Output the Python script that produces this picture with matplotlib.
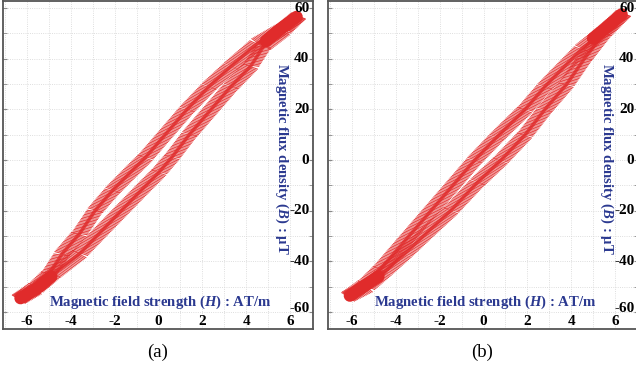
import matplotlib
matplotlib.use("Agg")
import matplotlib.pyplot as plt
import matplotlib.patheffects as pe
import matplotlib.transforms as mtransforms
import numpy as np

plt.rcParams['font.family'] = ['Liberation Serif', 'DejaVu Serif']
plt.rcParams['mathtext.fontset'] = 'custom'
plt.rcParams['mathtext.it'] = 'Liberation Serif:italic:bold'
plt.rcParams['mathtext.rm'] = 'Liberation Serif:bold'

# hysteresis loops, H in AT/m, B in uT
# each branch runs from negative to positive saturation
a_upper_h = [-6.4, -5.6, -5.0, -4.4, -3.6, -2.9, -2.1, -1.3, -0.6, 0.3, 1.3, 2.3, 3.3, 4.5, 5.7, 6.4]
a_upper_b = [-55, -50, -45, -37, -29, -20, -12, -5, 1, 10, 20, 29, 37, 46, 52, 57]
a_lower_h = [-6.4, -5.6, -4.8, -3.6, -2.6, -1.7, -0.8, 0.0, 0.6, 1.4, 2.4, 3.3, 4.2, 4.8, 5.7, 6.4]
a_lower_b = [-55, -51, -45, -37, -28, -20, -12, -5, 1, 10, 20, 29, 37, 45, 51, 57]
# dense saturation tips
a_tip_h = [[4.9, 5.6, 6.3], [-6.3, -5.6, -4.9]]
a_tip_b = [[47, 52, 56.5], [-54.5, -51, -46]]

b_upper_h = [-6.2, -5.4, -4.7, -4.0, -3.2, -2.4, -1.4, -0.4, 0.6, 1.9, 2.8, 3.7, 4.5, 5.5, 6.4]
b_upper_b = [-54, -49, -43, -36, -28, -20, -10, 0, 9, 20, 29, 37, 44, 51, 58]
b_lower_h = [-6.2, -5.3, -4.5, -3.6, -2.5, -1.5, -0.3, 0.8, 1.9, 2.8, 3.8, 4.6, 5.5, 6.4]
b_lower_b = [-54, -50, -44, -37, -28, -20, -9, 0, 10, 20, 30, 40, 50, 58]
b_tip_h = [[5.0, 5.7, 6.3], [-6.1, -5.5, -4.8]]
b_tip_b = [[48, 53, 57.5], [-53.5, -50, -46]]

x_ticks = [-6, -4, -2, 0, 2, 4, 6]
y_ticks = [-60, -40, -20, 0, 20, 40, 60]

red = '#e02b2b'
navy = '#2b3990'

fig = plt.figure(figsize=(6.36, 3.69), dpi=100)
W, H = 636, 369


def panel(left_px, right_px, loops, tips, tag, tag_x):
    ax = fig.add_axes([left_px / W, 1 - 329 / H, (right_px - left_px) / W, 328 / H])
    ax.set_xlim(-7.1, 7.05)
    ax.set_ylim(-66.7, 62.8)
    ax.set_xticks(np.arange(-7, 8, 1), minor=True)
    ax.set_yticks(np.arange(-60, 61, 10), minor=True)
    ax.set_xticks(x_ticks)
    ax.set_yticks(y_ticks)
    ax.grid(which='both', color='#d4d4d4', linestyle=':', linewidth=0.6)
    ax.tick_params(which='both', direction='in', length=3, color='#888888',
                   labelbottom=False, labelleft=False, left=True, right=True,
                   top=False, bottom=False)
    for s in ax.spines.values():
        s.set_color('#555555')
        s.set_linewidth(1.3)

    # short strokes across the trace, like the dense noisy samples
    stroke = [pe.TickedStroke(spacing=1.2, angle=115, length=4.6, linewidth=0.8,
                              foreground=red, alpha=0.85),
              pe.TickedStroke(spacing=1.2, angle=-65, length=4.6, linewidth=0.8,
                              foreground=red, alpha=0.85),
              pe.Normal()]
    for hh, bb in loops:
        ax.plot(hh, bb, color=red, linewidth=2.5, alpha=0.8, path_effects=stroke,
                solid_capstyle='round', solid_joinstyle='round', zorder=3)
    for hh, bb in zip(*tips):
        ax.plot(hh, bb, color=red, linewidth=9, solid_capstyle='round', zorder=3)

    trx = mtransforms.blended_transform_factory(ax.transData, ax.transAxes)
    for v in x_ticks:
        ax.text(v, 0.022, str(v), transform=trx, ha='center', va='center',
                fontsize=11, fontweight='bold', zorder=5)
    try_ = mtransforms.blended_transform_factory(ax.transAxes, ax.transData)
    for v in y_ticks:
        ax.text(0.988, v + (1.5 if v == -60 else 0), str(v), transform=try_,
                ha='right', va='center', fontsize=11, fontweight='bold', zorder=5)

    ax.text(0.506, 0.082, r'Magnetic field strength ($H$) : AT/m', transform=ax.transAxes,
            ha='center', va='center', fontsize=10.6, fontweight='bold', color=navy, zorder=5)
    ax.text(0.9, 0.52, r'Magnetic flux density ($B$) : μT', transform=ax.transAxes,
            ha='center', va='center', rotation=-90, fontsize=10.6, fontweight='bold',
            color=navy, zorder=5)
    fig.text(tag_x / W, 1 - 352 / H, tag, ha='center', va='center', fontsize=13.5)
    return ax


panel(3, 313, [(a_upper_h, a_upper_b), (a_lower_h, a_lower_b)], (a_tip_h, a_tip_b), '(a)', 158)
panel(328, 638, [(b_upper_h, b_upper_b), (b_lower_h, b_lower_b)], (b_tip_h, b_tip_b), '(b)', 482)

fig.savefig('out.png', dpi=100)
